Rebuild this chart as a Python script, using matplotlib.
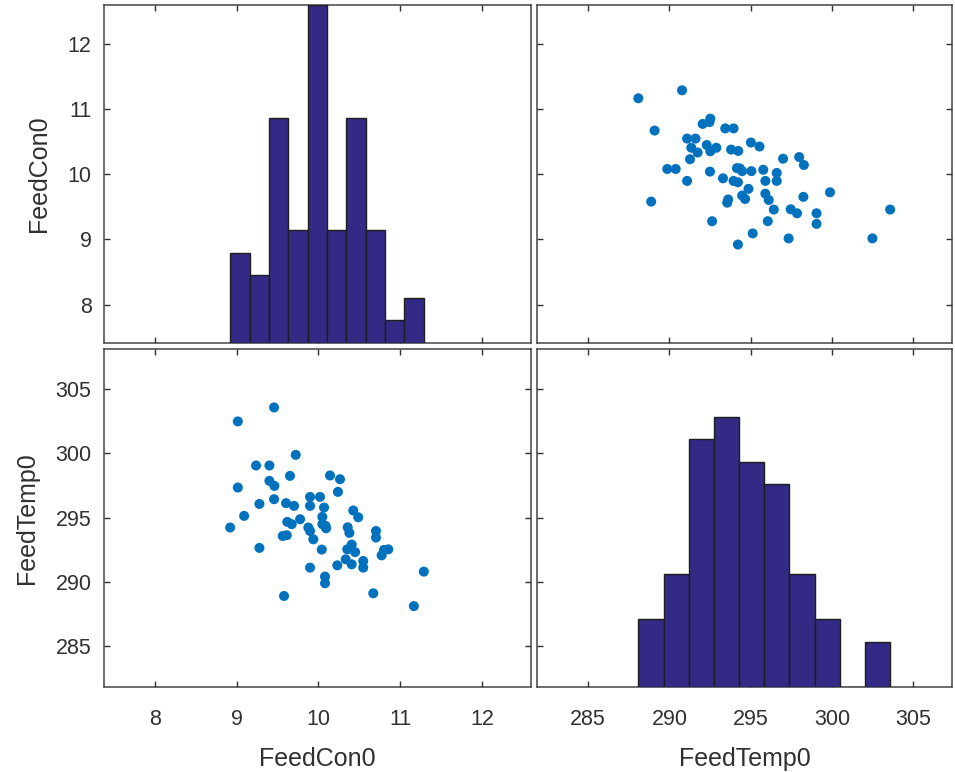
import numpy as np
import matplotlib
matplotlib.use("Agg")
import matplotlib.pyplot as plt

plt.rcParams['font.family'] = ['Liberation Sans', 'DejaVu Sans']

var_names = ["FeedCon0", "FeedTemp0"]

feed_con0 = [9.459, 9.016, 9.724, 9.239, 9.402, 9.654, 10.143, 10.265, 9.402, 9.463,
             9.016, 10.240, 9.459, 9.899, 10.021, 9.280, 9.606, 9.703, 9.899, 10.070,
             10.427, 10.488, 9.093, 10.049, 9.777, 9.621, 9.675, 10.049, 8.922, 9.878,
             10.090, 10.095, 10.359, 9.899, 10.705, 9.565, 9.614, 9.939, 10.705, 10.408,
             9.280, 10.042, 10.354, 10.802, 10.855, 10.774, 10.335, 10.549, 10.232, 10.408,
             10.549, 9.899, 10.082, 10.082, 11.290, 9.581, 10.672, 11.168, 10.450, 10.380]

feed_temp0 = [303.59, 302.50, 299.89, 299.06, 299.06, 298.25, 298.28, 297.99, 297.86, 297.47,
              297.34, 297.00, 296.43, 296.61, 296.61, 296.06, 296.12, 295.91, 295.91, 295.78,
              295.55, 295.02, 295.13, 295.05, 294.87, 294.66, 294.48, 294.48, 294.22, 294.22,
              294.34, 294.16, 294.24, 293.95, 293.95, 293.56, 293.62, 293.30, 293.44, 292.89,
              292.63, 292.50, 292.52, 292.47, 292.52, 292.05, 291.74, 291.61, 291.27, 291.35,
              291.09, 291.09, 290.39, 289.87, 290.78, 288.88, 289.09, 288.09, 292.30, 293.80]

con_ticks = [8, 9, 10, 11, 12]
temp_ticks = [285, 290, 295, 300, 305]

data = [np.array(feed_con0), np.array(feed_temp0)]
ticks = [con_ticks, temp_ticks]
xlims = [(7.38, 12.60), (281.85, 307.4)]
ylims = [(7.41, 12.60), (281.8, 308.15)]

bar_color = "#332a85"
dot_color = "#0072bd"
txt_color = "#303030"

fig = plt.figure(figsize=(9.55, 7.72), dpi=100)
W, H = 955, 772
cols = [(104, 531), (537, 952)]
rows = [(5, 343), (349, 686.7)]

nbins = 10
max_count = max(np.histogram(d, bins=nbins)[0].max() for d in data)

for i in range(2):
    for j in range(2):
        x0, x1 = cols[j]
        y0, y1 = rows[i]
        ax = fig.add_axes([x0 / W, (H - y1) / H, (x1 - x0) / W, (y1 - y0) / H])
        ax.set_xlim(*xlims[j])
        ax.set_ylim(*ylims[i])
        ax.set_xticks(ticks[j])
        ax.set_yticks(ticks[i])
        ax.tick_params(direction='in', top=True, right=True, length=4,
                       width=1.0, color=txt_color, labelsize=15.5,
                       labelcolor=txt_color)
        ax.tick_params(axis='x', pad=16)
        ax.tick_params(axis='y', pad=9)
        for s in ax.spines.values():
            s.set_color("#444444")
            s.set_linewidth(1.1)
        if j != 0:
            ax.tick_params(labelleft=False)
        if i != 1:
            ax.tick_params(labelbottom=False)
        if j == 0:
            ax.set_ylabel(var_names[i], fontsize=18, color=txt_color, labelpad=12)
        if i == 1:
            ax.set_xlabel(var_names[j], fontsize=18, color=txt_color, labelpad=12)
        if i == j:
            hx = ax.twinx()
            hx.hist(data[j], bins=nbins, color=bar_color, edgecolor="#1e1e1e",
                    linewidth=1.0)
            hx.set_ylim(0, max_count)
            hx.set_yticks([])
            hx.set_xlim(*xlims[j])
            for s in hx.spines.values():
                s.set_visible(False)
        else:
            ax.scatter(data[j], data[i], s=52, color=dot_color, edgecolors='none')

fig.savefig("out.png", dpi=100)
